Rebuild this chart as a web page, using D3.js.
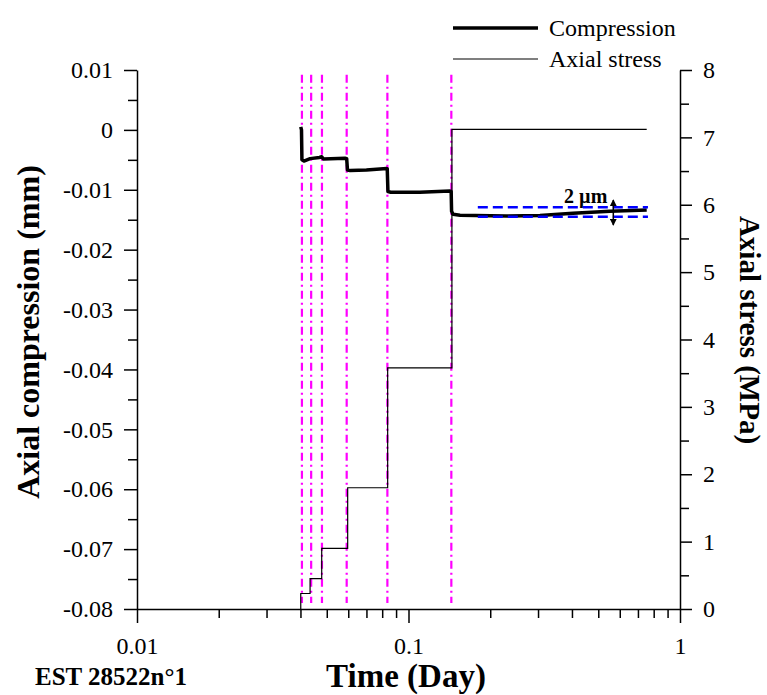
<!DOCTYPE html>
<html>
<head>
<meta charset="utf-8">
<script src="https://cdn.jsdelivr.net/npm/d3@7"></script>
<style>
  body { margin: 0; background: #fff; }
  svg { display: block; font-family: "Liberation Serif", "Times New Roman", serif; }
</style>
</head>
<body>
<div id="chart"></div>
<script>
// axial compression (mm) vs time (day), left axis
const compTime  = [0.0401, 0.04035, 0.0405, 0.0412, 0.0434, 0.0470, 0.0479, 0.0486, 0.0584,
                   0.0592, 0.0596, 0.0610, 0.0700, 0.0831, 0.0835, 0.0840, 0.0860, 0.1100,
                   0.1421, 0.1436, 0.1441, 0.1459, 0.1548, 0.229, 0.305, 0.4035, 0.552, 0.754];
const compValue = [0.0005, 0.0000, -0.0050, -0.0052, -0.0048, -0.0046, -0.00448, -0.00486, -0.00474,
                   -0.00480, -0.0067, -0.0068, -0.0067, -0.00645, -0.0065, -0.0103, -0.0104, -0.0104,
                   -0.0102, -0.0103, -0.0136, -0.0141, -0.01425, -0.01438, -0.0143, -0.0139, -0.0136, -0.01338];

// axial stress steps (MPa), right axis
const stressTime  = [0.0401, 0.0401, 0.0434, 0.0479, 0.0597, 0.0838, 0.1445, 0.754];
const stressValue = [0, 0.23, 0.45, 0.9, 1.8, 3.58, 7.12, 7.12];

// loading steps (dash-dot verticals)
const stepTimes = [0.0405, 0.0438, 0.0480, 0.0592, 0.0836, 0.1438];

// 2 µm band
const bandTime = [0.180, 0.762];
const bandValue = [-0.0129, -0.0145];
const arrowTime = 0.568;
const arrowValue = [-0.0117, -0.0159];

// ticks
const xTicks = [0.01, 0.1, 1];
const xTickLabels = ["0.01", "0.1", "1"];
const xMinor = [0.02, 0.03, 0.04, 0.05, 0.06, 0.07, 0.08, 0.09, 0.2, 0.3, 0.4, 0.5, 0.6, 0.7, 0.8, 0.9];
const leftTicks = [0.01, 0, -0.01, -0.02, -0.03, -0.04, -0.05, -0.06, -0.07, -0.08];
const leftTickLabels = ["0.01", "0", "-0.01", "-0.02", "-0.03", "-0.04", "-0.05", "-0.06", "-0.07", "-0.08"];
const leftMinor = [0.005, -0.005, -0.015, -0.025, -0.035, -0.045, -0.055, -0.065, -0.075];
const rightTicks = [0, 1, 2, 3, 4, 5, 6, 7, 8];
const rightMinor = [0.5, 1.5, 2.5, 3.5, 4.5, 5.5, 6.5, 7.5];

const W = 767, H = 695;
const mg = { left: 137, right: 680, top: 70, bottom: 609 };
const serif = '"Liberation Serif", "Times New Roman", serif';

const svg = d3.select('#chart').append('svg')
  .attr('width', W)
  .attr('height', H);

const x = d3.scaleLog().domain([0.01, 1]).range([mg.left, mg.right]);
const yL = d3.scaleLinear().domain([-0.08, 0.01]).range([mg.bottom, mg.top]);
const yR = d3.scaleLinear().domain([0, 8]).range([mg.bottom, mg.top]);

function styleAxis (g, size) {
  g.attr('font-family', serif);
  g.select('.domain').attr('stroke', '#000').attr('stroke-width', 1.5);
  g.selectAll('.tick line').attr('stroke', '#000').attr('stroke-width', 1.5);
  g.selectAll('text').attr('fill', '#000').style('font-family', serif).style('font-size', size + 'px');
}

// minor ticks first
svg.append('g').attr('transform', `translate(0,${mg.bottom})`)
  .call(d3.axisBottom(x).tickValues(xMinor).tickSize(9).tickFormat(''))
  .call(g => { g.select('.domain').remove(); styleAxis(g, 10); });
svg.append('g').attr('transform', `translate(${mg.left},0)`)
  .call(d3.axisLeft(yL).tickValues(leftMinor).tickSize(9).tickFormat(''))
  .call(g => { g.select('.domain').remove(); styleAxis(g, 10); });
svg.append('g').attr('transform', `translate(${mg.right},0)`)
  .call(d3.axisRight(yR).tickValues(rightMinor).tickSize(9).tickFormat(''))
  .call(g => { g.select('.domain').remove(); styleAxis(g, 10); });

// major axes
svg.append('g').attr('transform', `translate(0,${mg.bottom})`)
  .call(d3.axisBottom(x).tickValues(xTicks).tickSize(14).tickSizeOuter(0).tickPadding(14)
    .tickFormat((d, i) => xTickLabels[i]))
  .call(g => styleAxis(g, 24));
svg.append('g').attr('transform', `translate(${mg.left},0)`)
  .call(d3.axisLeft(yL).tickValues(leftTicks).tickSize(13).tickSizeOuter(0).tickPadding(11)
    .tickFormat((d, i) => leftTickLabels[i]))
  .call(g => styleAxis(g, 24));
svg.append('g').attr('transform', `translate(${mg.right},0)`)
  .call(d3.axisRight(yR).tickValues(rightTicks).tickSize(12).tickSizeOuter(0).tickPadding(11))
  .call(g => styleAxis(g, 24));

// dash-dot step lines
svg.selectAll('.step')
  .data(stepTimes)
  .enter().append('line')
  .attr('class', 'step')
  .attr('x1', d => x(d)).attr('x2', d => x(d))
  .attr('y1', yL(0.0092)).attr('y2', yL(-0.079))
  .attr('stroke', '#ff00ff')
  .attr('stroke-width', 2.2)
  .attr('stroke-dasharray', '8,4,2,4');

// axial stress
const stressPts = stressTime.map((t, i) => [t, stressValue[i]]);
svg.append('path')
  .datum(stressPts)
  .attr('fill', 'none')
  .attr('stroke', '#000')
  .attr('stroke-width', 1.2)
  .attr('d', d3.line().curve(d3.curveStepAfter).x(d => x(d[0])).y(d => yR(d[1])));

// compression
const compPts = compTime.map((t, i) => [t, compValue[i]]);
svg.append('path')
  .datum(compPts)
  .attr('fill', 'none')
  .attr('stroke', '#000')
  .attr('stroke-width', 3.5)
  .attr('stroke-linejoin', 'round')
  .attr('d', d3.line().x(d => x(d[0])).y(d => yL(d[1])));

// 2 µm band
svg.selectAll('.band')
  .data(bandValue)
  .enter().append('line')
  .attr('class', 'band')
  .attr('x1', x(bandTime[0])).attr('x2', x(bandTime[1]))
  .attr('y1', d => yL(d)).attr('y2', d => yL(d))
  .attr('stroke', '#0000ff')
  .attr('stroke-width', 2.5)
  .attr('stroke-dasharray', '10,5');

svg.append('defs').append('marker')
  .attr('id', 'head')
  .attr('viewBox', '0 0 10 10')
  .attr('refX', 9).attr('refY', 5)
  .attr('markerWidth', 7).attr('markerHeight', 7)
  .attr('markerUnits', 'userSpaceOnUse')
  .attr('orient', 'auto-start-reverse')
  .append('path').attr('d', 'M0,0L10,5L0,10Z').attr('fill', '#000');

svg.append('line')
  .attr('x1', x(arrowTime)).attr('x2', x(arrowTime))
  .attr('y1', yL(arrowValue[0])).attr('y2', yL(arrowValue[1]))
  .attr('stroke', '#000')
  .attr('stroke-width', 1.5)
  .attr('marker-start', 'url(#head)')
  .attr('marker-end', 'url(#head)');

svg.append('text')
  .attr('x', x(arrowTime) - 6)
  .attr('y', yL(arrowValue[0]) + 3)
  .attr('text-anchor', 'end')
  .style('font-size', '20px')
  .style('font-weight', 'bold')
  .text('2 µm');

// legend
const legend = [
  { label: 'Compression', w: 3.5, y: 28 },
  { label: 'Axial stress', w: 1.2, y: 59 }
];
svg.selectAll('.legLine')
  .data(legend)
  .enter().append('line')
  .attr('x1', 453).attr('x2', 538)
  .attr('y1', d => d.y).attr('y2', d => d.y)
  .attr('stroke', '#000')
  .attr('stroke-width', d => d.w);
svg.selectAll('.legText')
  .data(legend)
  .enter().append('text')
  .attr('x', 549)
  .attr('y', d => d.y + 8)
  .style('font-size', '24px')
  .text(d => d.label);

// axis titles
svg.append('text')
  .attr('transform', 'translate(39,332) rotate(-90)')
  .attr('text-anchor', 'middle')
  .style('font-size', '32px')
  .style('font-weight', 'bold')
  .text('Axial compression (mm)');

svg.append('text')
  .attr('transform', 'translate(740,330) rotate(90)')
  .attr('text-anchor', 'middle')
  .style('font-size', '29px')
  .style('font-weight', 'bold')
  .text('Axial stress (MPa)');

svg.append('text')
  .attr('x', 406).attr('y', 687)
  .attr('text-anchor', 'middle')
  .style('font-size', '33px')
  .style('font-weight', 'bold')
  .text('Time (Day)');

svg.append('text')
  .attr('x', 35).attr('y', 685)
  .style('font-size', '25px')
  .style('font-weight', 'bold')
  .text('EST 28522n°1');
</script>
</body>
</html>
